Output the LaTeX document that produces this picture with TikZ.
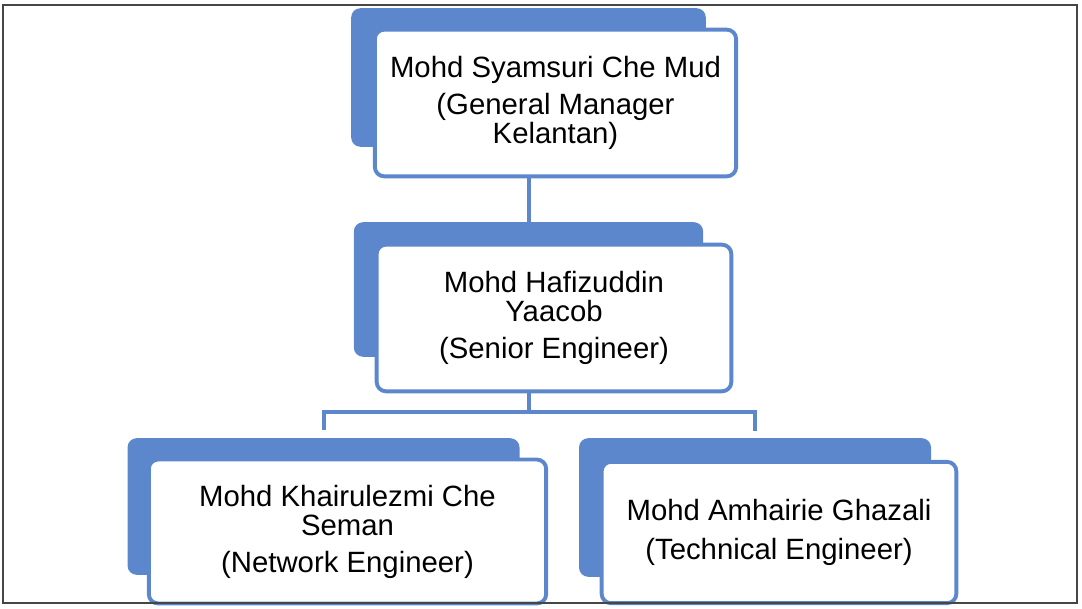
\documentclass[tikz,border=0pt]{standalone}
\usepackage{fontspec}
\setmainfont{Liberation Sans}
\usetikzlibrary{calc}

\definecolor{orgblue}{RGB}{92,135,204}
\definecolor{framegray}{RGB}{70,70,70}

\tikzset{
    backbox/.style = {fill = orgblue, rounded corners = 7pt, inner sep = 0pt},
    frontbox/.style = {draw = orgblue, line width = 2.9pt, fill = white, rounded corners = 7pt,
        inner sep = 0pt, align = center, font = \fontsize{22}{21.75}\selectfont},
    link/.style = {draw = orgblue, line width = 3pt}
}

\begin{document}
\begin{tikzpicture}[x = 0.75pt, y = -0.75pt]
                \useasboundingbox (0, 0) rectangle (1082, 609);

                \node [backbox, minimum width = 266pt, minimum height = 104pt] (gmback) at (528.5, 77.5) {};
                \node [backbox, minimum width = 262pt, minimum height = 101pt] (seback) at (528.5, 289.5) {};
                \node [backbox, minimum width = 294pt, minimum height = 102.5pt] (neback) at (323.5, 506.5) {};
                \node [backbox, minimum width = 264pt, minimum height = 104pt] (teback) at (755, 507.5) {};

                \coordinate (bus) at (528.5, 412);
                \draw [link] (gmback) -- (seback);
                \draw [link] (seback) -- (bus);
                \draw [link, shorten >= 6pt] (bus) -| (neback);
                \draw [link, shorten >= 5pt] (bus) -| (teback);

                \node [frontbox, minimum width = 271pt, minimum height = 110pt] (gm) at (555.5, 103)
                    {Mohd Syamsuri Che Mud\\[6pt](General Manager\\Kelantan)};
                \node [frontbox, minimum width = 266pt, minimum height = 110pt] (se) at (554, 318)
                    {Mohd Hafizuddin\\Yaacob\\[6pt](Senior Engineer)};
                \node [frontbox, minimum width = 298pt, minimum height = 108pt] (ne) at (347.5, 531.5)
                    {Mohd Khairulezmi Che\\Seman\\[6pt](Network Engineer)};
                \node [frontbox, minimum width = 266pt, minimum height = 106pt] (te) at (779, 532.5)
                    {Mohd Amhairie Ghazali\\[7pt](Technical Engineer)};

                \draw [framegray, line width = 1.8pt] (3, 5) rectangle (1077, 603);
            \end{tikzpicture}
\end{document}
